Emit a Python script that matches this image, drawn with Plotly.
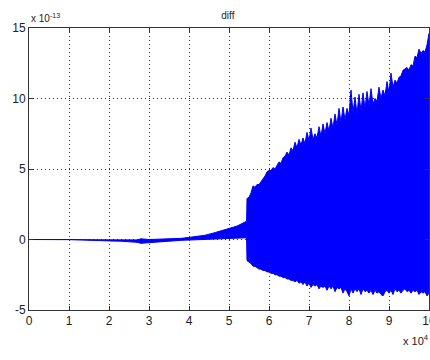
import numpy as np
import plotly.graph_objects as go

# x in units of 1e4 samples, y in units of 1e-13
x_pre = [0, 1.0, 1.3, 1.5, 1.8, 2.0, 2.3, 2.5, 2.7, 2.8, 3.0, 3.2, 3.5, 3.8, 4.0, 4.2, 4.4, 4.6, 4.8, 5.0, 5.2, 5.44]
upper_pre = [0, 0, 0, -0.01, -0.02, -0.02, -0.03, -0.03, -0.03, 0.05, 0.0, 0.02, 0.04, 0.08, 0.15, 0.22, 0.3, 0.45, 0.6, 0.8, 0.95, 1.3]
lower_pre = [0, 0, 0, -0.05, -0.07, -0.1, -0.12, -0.14, -0.2, -0.27, -0.22, -0.18, -0.12, -0.06, 0.0, 0.02, 0.03, 0.05, 0.05, 0.08, 0.1, 0.12]

x_post = list(np.round(np.arange(5.45, 10.001, 0.05), 2))
upper_post = [2.9, 3.0, 3.3, 3.8, 3.7, 3.9, 3.9, 4.1, 4.3, 4.5, 4.8,
              4.9, 4.9, 5.1, 5.0, 5.3, 5.5, 5.4, 5.8, 5.9, 6.2, 6.0, 6.5, 6.3, 6.9, 6.5, 7.1, 6.7, 7.2, 6.8, 7.6,
              7.0, 7.9, 7.1, 7.5, 7.2, 8.0, 7.3, 8.2, 7.5, 8.3, 7.7, 8.6, 7.9, 8.9, 8.1, 9.3, 8.3, 9.4, 8.5, 9.3,
              8.8, 10.6, 9.0, 10.1, 8.9, 10.3, 9.1, 10.4, 9.3, 10.5, 9.5, 10.7, 9.6, 10.0, 9.8, 10.8, 10.0, 10.6, 10.2, 11.2,
              10.4, 11.8, 10.8, 11.3, 11.1, 11.5, 11.6, 12.0, 12.1, 12.2, 12.0, 12.4, 12.3, 13.0, 12.9, 13.5, 13.2, 13.4, 13.3, 13.8,
              14.6]
lower_post = [-1.5, -1.6, -1.7, -1.9, -1.9, -2.0, -2.1, -2.1, -2.2, -2.2, -2.3,
              -2.3, -2.4, -2.4, -2.5, -2.5, -2.6, -2.6, -2.7, -2.7, -2.8, -2.8, -2.9, -2.9, -3.0, -2.9, -3.1, -3.0, -3.2, -3.0, -3.3,
              -3.1, -3.4, -3.2, -3.3, -3.2, -3.5, -3.3, -3.4, -3.3, -3.6, -3.3, -3.5, -3.3, -3.7, -3.4, -3.5, -3.4, -3.8, -3.5, -3.7,
              -4.0, -3.5, -3.8, -3.5, -3.7, -3.5, -3.9, -3.5, -3.7, -3.6, -3.8, -3.6, -3.9, -3.6, -3.8, -3.7, -3.9, -4.0, -3.7, -3.6,
              -3.8, -3.6, -3.9, -3.5, -3.7, -3.6, -3.8, -3.6, -3.5, -3.7, -3.6, -3.8, -3.6, -3.7, -3.6, -3.9, -3.7, -3.8, -3.7, -4.0,
              -3.8]

xs = [float(v) for v in x_pre] + [float(v) for v in x_post]
up = upper_pre + upper_post
lo = lower_pre + lower_post
assert len(xs) == len(up) == len(lo)

x_ticks = [0, 1, 2, 3, 4, 5, 6, 7, 8, 9, 10]
y_ticks = [-5, 0, 5, 10, 15]

fig = go.Figure()
fig.add_trace(go.Scatter(x=xs + xs[::-1], y=up + lo[::-1], mode="lines",
                         fill="toself", fillcolor="#0000FF",
                         line=dict(color="#0000FF", width=1), hoverinfo="skip"))

ax_common = dict(showline=True, linecolor="#333333", linewidth=1, mirror="ticks",
                 ticks="inside", ticklen=4, tickcolor="#333333",
                 showgrid=True, gridcolor="#333333", griddash="1px,3px", gridwidth=1,
                 zeroline=False, ticklabeloverflow="allow", automargin=False,
                 tickfont=dict(family="Liberation Sans", size=12, color="#222222"))

fig.update_xaxes(range=[0, 10], tickvals=x_ticks, ticktext=[str(v) for v in x_ticks], **ax_common)
fig.update_yaxes(range=[-5, 15], tickvals=y_ticks, ticktext=[str(v) for v in y_ticks], **ax_common)

fig.update_layout(
    width=430, height=360,
    margin=dict(l=29, r=1, t=28, b=50, autoexpand=False),
    paper_bgcolor="white", plot_bgcolor="white",
    showlegend=False,
    title=dict(text="diff", x=0.53, xanchor="center", y=1 - 15 / 360, yanchor="middle",
               font=dict(family="Liberation Sans", size=10, color="#222222")),
    annotations=[
        dict(text="x 10<sup>-13</sup>", xref="paper", yref="paper", x=0, y=1, xanchor="left", yanchor="bottom",
             showarrow=False, yshift=2, font=dict(family="Liberation Sans", size=10, color="#222222")),
        dict(text="x 10<sup>4</sup>", xref="paper", yref="paper", x=1, y=0, xanchor="right", yanchor="top",
             showarrow=False, yshift=-21, xshift=2, font=dict(family="Liberation Sans", size=11, color="#222222")),
    ],
)

fig.write_html("out.html")
